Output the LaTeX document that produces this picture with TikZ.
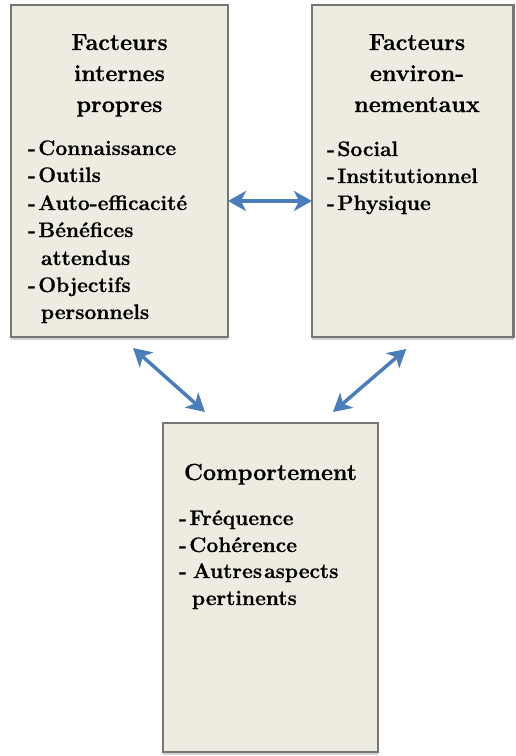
\documentclass[tikz,border=0pt]{standalone}
\usepackage{fontspec}
\setmainfont{Latin Modern Roman}[BoldFeatures={FakeBold=0.8}]
\usetikzlibrary{arrows.meta,shadows}

\definecolor{boxFill}{RGB}{238,236,225}
\definecolor{boxDraw}{RGB}{118,118,118}
\definecolor{linkColor}{RGB}{74,126,187}

\newcommand{\itm}[1]{-\hspace{2.5pt}#1}

\tikzset{
  factor/.style={rectangle, draw=boxDraw, fill=boxFill, line width=2.8pt, inner sep=0pt, outer sep=0pt,
    drop shadow={shadow xshift=0pt, shadow yshift=-3pt, opacity=0.35}},
  title/.style={anchor=base, inner sep=0pt, outer sep=0pt, font=\bfseries\fontsize{23.3}{28}\selectfont},
  item/.style={anchor=base west, inner sep=0pt, outer sep=0pt, font=\bfseries\fontsize{21}{25}\selectfont},
  link/.style={draw=linkColor, line width=3.5pt,
    {Stealth[length=18pt,width=20pt,inset=5pt]}-{Stealth[length=18pt,width=20pt,inset=5pt]}}
}

\begin{document}
\begin{tikzpicture}[x=1pt,y=-1pt]
\path[use as bounding box] (0,0) rectangle (515,756);

% boxes
\node[factor, minimum width=217pt, minimum height=332pt] (internes) at (119.5,171) {};
\node[factor, minimum width=201.5pt, minimum height=332pt] (env) at (412.75,171) {};
\node[factor, minimum width=215pt, minimum height=329pt] (comp) at (270.5,587.5) {};

% facteurs internes
\node[title] (int-t1) at (119.5, 50) {Facteurs};
\node[title] (int-t2) at (119.5, 81) {internes};
\node[title] (int-t3) at (119.5,112) {propres};
\node[item] (int-a) at (28,155) {\itm{Connaissance}};
\node[item] (int-b) at (28,182) {\itm{Outils}};
\node[item] (int-c) at (28,210) {\itm{Auto-efficacité}};
\node[item] (int-d) at (28,237) {\itm{Bénéfices}};
\node[item] (int-d2) at (41,265) {attendus};
\node[item] (int-e) at (28,292) {\itm{Objectifs}};
\node[item] (int-e2) at (41,319) {personnels};

% facteurs environnementaux
\node[title] (env-t1) at (417, 50) {Facteurs};
\node[title] (env-t2) at (417, 81) {environ-};
\node[title] (env-t3) at (417,112) {nementaux};
\node[item] (env-a) at (327,156) {\itm{Social}};
\node[item] (env-b) at (327,183) {\itm{Institutionnel}};
\node[item] (env-c) at (327,210) {\itm{Physique}};

% comportement
\node[title] (comp-t) at (270.5,480) {Comportement};
\node[item] (comp-a) at (179,525) {\itm{Fréquence}};
\node[item] (comp-b) at (179,552) {\itm{Cohérence}};
\node[item] (comp-c) at (179,578) {-\hspace{6pt}Autres\hspace{2pt}aspects};
\node[item] (comp-c2) at (192,605) {pertinents};

% links
\draw[link] ([yshift=-30pt]internes.east) -- ([yshift=-30pt]env.west);
\draw[link] ([xshift=13.5pt,yshift=-11pt]internes.south) -- ([xshift=-65.5pt,yshift=11pt]comp.north);
\draw[link] ([xshift=-6.5pt,yshift=-12pt]env.south) -- ([xshift=62.5pt,yshift=11pt]comp.north);
\end{tikzpicture}
\end{document}
